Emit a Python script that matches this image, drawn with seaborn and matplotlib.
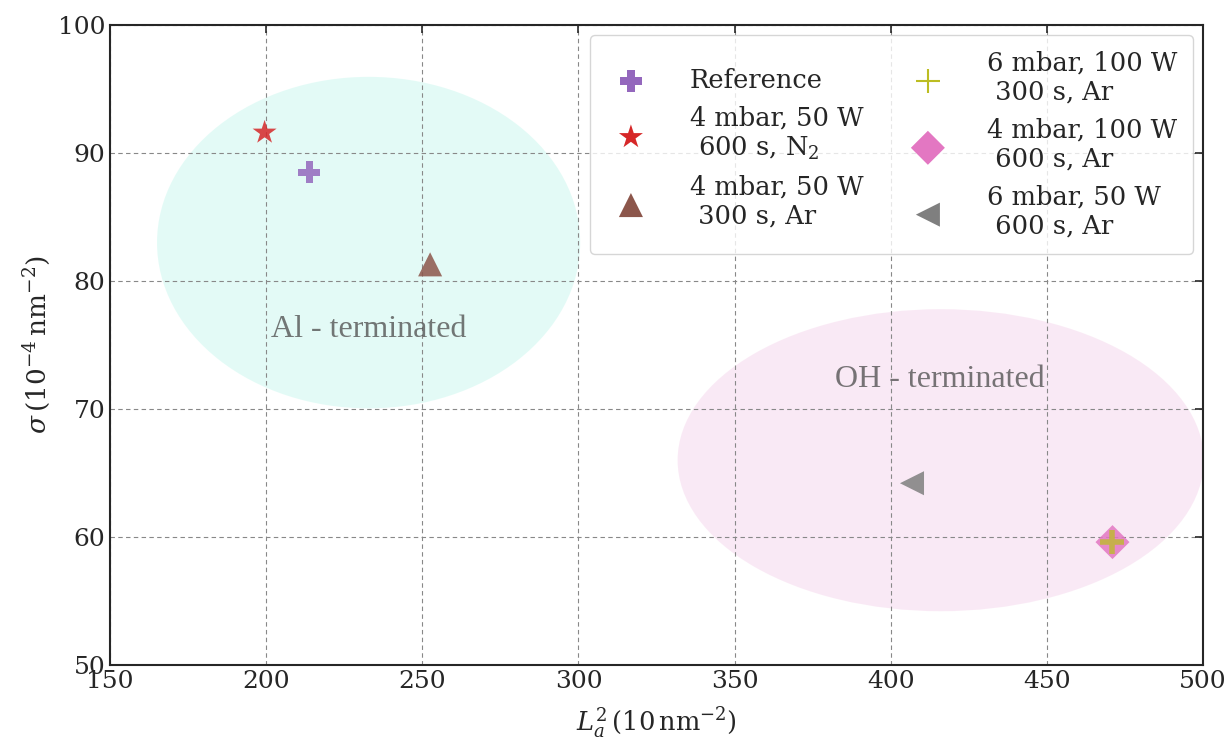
import pandas as pd
import seaborn as sns
import matplotlib.pyplot as plt
from matplotlib.patches import Ellipse

# samples: (L_a^2, sigma)
labels = ['Reference',
          '4 mbar, 50 W\n 600 s, N$_2$',
          '4 mbar, 50 W\n 300 s, Ar',
          '6 mbar, 100 W\n 300 s, Ar',
          '4 mbar, 100 W\n 600 s, Ar',
          '6 mbar, 50 W\n 600 s, Ar']
la2 = [213.8, 199.5, 252.5, 471.0, 471.0, 406.8]
sigma = [88.5, 91.6, 81.3, 59.6, 59.6, 64.2]
markers = ['P', '*', '^', '+', 'D', '<']
colors = ['#9467bd', '#d62728', '#8c564b', '#bcbd22', '#e377c2', '#7f7f7f']
sizes = [250, 330, 300, 280, 300, 300]

# region ellipses: centre x, centre y, width, height
regions = ['Al - terminated', 'OH - terminated']
reg_x = [232.8, 416.0]
reg_y = [83.0, 66.0]
reg_w = [135.5, 168.5]
reg_h = [25.9, 23.6]
reg_color = ['#c8f7ee', '#f5d5ec']
txt_x = [232.8, 415.8]
txt_y = [76.2, 72.3]

sns.set_style('white')
plt.rcParams['font.family'] = ['DejaVu Serif']
plt.rcParams['mathtext.fontset'] = 'dejavuserif'

fig, ax = plt.subplots(figsize=(12.32, 7.42), dpi=100)
fig.subplots_adjust(left=0.0893, right=0.9765, top=0.9663, bottom=0.1038)

for cx, cy, w, h, c in zip(reg_x, reg_y, reg_w, reg_h, reg_color):
    ax.add_patch(Ellipse((cx, cy), w, h, facecolor=c, edgecolor='none', alpha=0.5, zorder=0))
for t, tx, ty in zip(regions, txt_x, txt_y):
    ax.text(tx, ty, t, ha='center', va='center', fontsize=23, color='#555555', alpha=0.8,
            family=['Liberation Serif'], zorder=1)

df = pd.DataFrame({'la2': la2, 'sigma': sigma, 'label': labels})
for i in range(len(df)):
    is_plus = markers[i] == '+'
    sns.scatterplot(data=df.iloc[[i]], x='la2', y='sigma', ax=ax, marker=markers[i],
                    color=colors[i], s=sizes[i], label=df['label'][i], alpha=0.75 if is_plus else 0.85,
                    linewidth=4 if is_plus else 0, edgecolor=colors[i] if is_plus else 'none',
                    zorder=4 if is_plus else 3)

ax.set_xlim(150, 500)
ax.set_ylim(50, 100)
ax.grid(True, linestyle=(0, (4, 3)), color='#888888', linewidth=0.8)
ax.set_axisbelow(True)
ax.tick_params(direction='in', top=True, right=True, labelsize=18, length=6, width=1.2)
for s in ax.spines.values():
    s.set_linewidth(1.5)

ax.set_xlabel(r'$L_a^2\,(10\,\mathrm{nm}^{-2})$', fontsize=18.5, labelpad=9)
ax.set_ylabel(r'$\sigma\,(10^{-4}\,\mathrm{nm}^{-2})$', fontsize=19, labelpad=4)

leg = ax.legend(loc='upper right', ncol=2, fontsize=18.5, frameon=True, borderpad=0.6,
                labelspacing=0.5, handletextpad=1.3, columnspacing=1.5, markerscale=1.0,
                borderaxespad=0.4)
for h in leg.legend_handles:
    h.set_alpha(1)
leg.legend_handles[3].set_linewidth(1.5)

plt.savefig('out.png', dpi=100)
